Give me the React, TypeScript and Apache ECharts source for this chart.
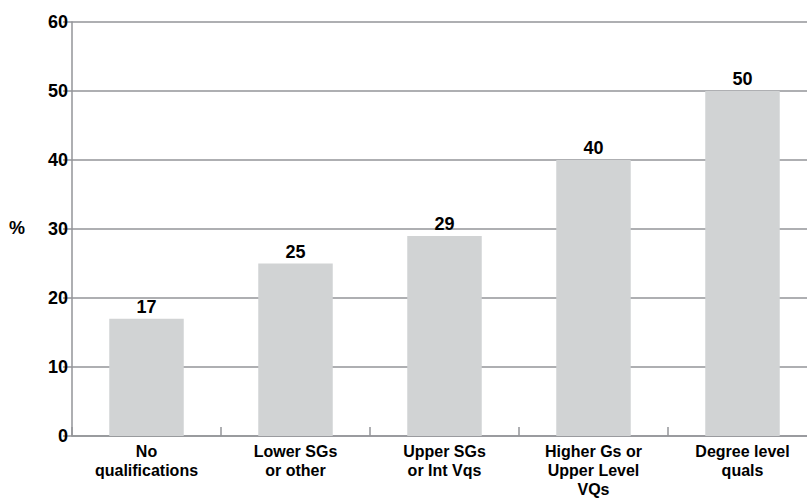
import React, { useEffect, useRef } from "react";
import * as echarts from "echarts";

const categories = [
  "No\nqualifications",
  "Lower SGs\nor other",
  "Upper SGs\nor Int Vqs",
  "Higher Gs or\nUpper Level\nVQs",
  "Degree level\nquals",
];
const values = [17, 25, 29, 40, 50];
const yTicks = { min: 0, max: 60, interval: 10 };
const yAxisName = "%";

const AXIS_GREY = "#939598";
const BAR_GREY = "#d1d3d4";
const BOLD_FONT = "'Liberation Sans', Arial, Helvetica, sans-serif";

export default function App() {
  const ref = useRef<HTMLDivElement>(null);

  useEffect(() => {
    document.body.style.margin = "0";
    if (!ref.current) return;
    const chart = echarts.init(ref.current, undefined, { renderer: "svg" });
    chart.setOption({
      animation: false,
      backgroundColor: "#ffffff",
      grid: {
        left: 72,
        top: 22,
        width: 745,
        height: 414,
        containLabel: false,
        outerBoundsMode: "none",
      },
      graphic: [
        {
          type: "text",
          left: 9,
          top: 219,
          style: {
            text: yAxisName,
            font: `bold 18px ${BOLD_FONT}`,
            fill: "#000",
          },
        },
      ],
      xAxis: {
        type: "category",
        data: categories,
        axisLine: { lineStyle: { color: AXIS_GREY, width: 1.5 } },
        axisTick: {
          show: true,
          inside: true,
          length: 9,
          alignWithLabel: false,
          lineStyle: { color: AXIS_GREY, width: 1.5 },
        },
        axisLabel: {
          interval: 0,
          color: "#000",
          fontFamily: BOLD_FONT,
          fontWeight: "bold",
          fontSize: 16,
          lineHeight: 19,
          margin: 6,
        },
      },
      yAxis: {
        type: "value",
        min: yTicks.min,
        max: yTicks.max,
        interval: yTicks.interval,
        axisLine: { show: true, lineStyle: { color: AXIS_GREY, width: 1.5 } },
        axisTick: { show: true, length: 9, lineStyle: { color: AXIS_GREY, width: 1.5 } },
        splitLine: { show: true, lineStyle: { color: AXIS_GREY, width: 1.5 } },
        axisLabel: {
          color: "#000",
          fontFamily: BOLD_FONT,
          fontWeight: "bold",
          fontSize: 18,
          margin: 4,
        },
      },
      series: [
        {
          type: "bar",
          data: values,
          barWidth: "50%",
          itemStyle: { color: BAR_GREY },
          label: {
            show: true,
            position: "top",
            distance: 3,
            color: "#000",
            fontFamily: BOLD_FONT,
            fontWeight: "bold",
            fontSize: 18,
          },
        },
      ],
    });
    return () => chart.dispose();
  }, []);

  return <div ref={ref} style={{ width: 807, height: 499 }} />;
}
